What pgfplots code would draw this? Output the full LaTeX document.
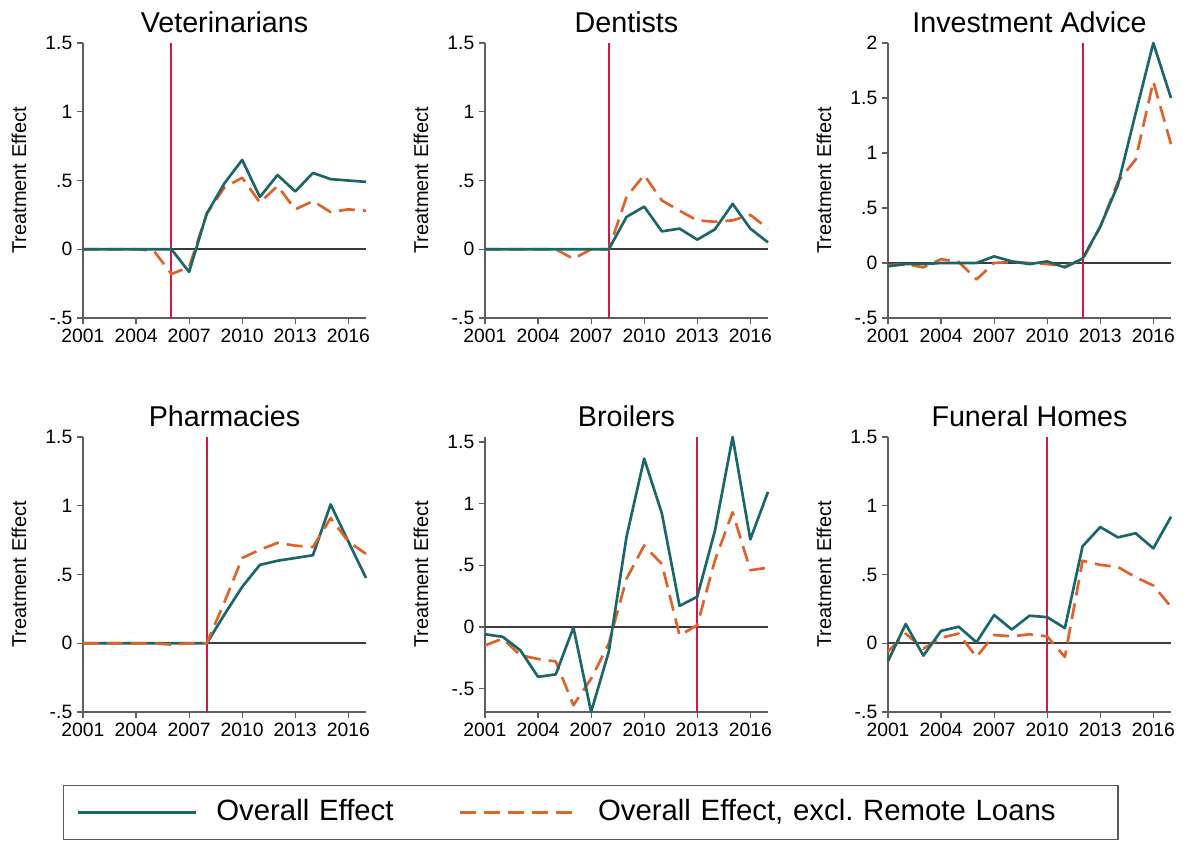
\documentclass[border=0pt]{standalone}
\usepackage{fontspec}
\setmainfont{Liberation Sans}
\usepackage{pgfplots}
\pgfplotsset{compat=1.18}
\definecolor{tealc}{RGB}{26,102,104}
\definecolor{orangec}{RGB}{221,99,42}
\definecolor{redc}{RGB}{210,25,70}
\definecolor{axisgray}{RGB}{95,95,95}
\definecolor{zerogray}{RGB}{60,60,60}
\definecolor{legendgray}{RGB}{90,90,90}
\pgfplotsset{
  panel/.style={
    scale only axis, width=212.25pt, height=206.25pt,
    xmin=2001, xmax=2017, enlargelimits=false, clip=false,
    axis x line*=bottom, axis y line*=left,
    axis line style={-, draw=axisgray, line width=0.9pt},
    tick align=outside, major tick length=4.5pt,
    tick style={draw=axisgray, line width=0.9pt},
    xtick={2001,2004,2007,2010,2013,2016},
    xticklabels={2001,2004,2007,2010,2013,2016},
    ticklabel style={font=\fontsize{14.5}{15}\selectfont},
    every axis title/.style={at={(0.5,1)}, anchor=base, yshift=7.5pt, font=\fontsize{21.5}{22}\selectfont},
    every axis y label/.style={at={(axis description cs:-0.226,0.5)}, rotate=90, anchor=center, font=\fontsize{15}{16}\selectfont},
    ylabel={Treatment Effect},
  },
  std y/.style={ymin=-0.5, ymax=1.5, ytick={-0.5,0,0.5,1,1.5}, yticklabels={-.5,0,.5,1,1.5}},
  teal line/.style={tealc, line width=2pt, line join=round},
  orange line/.style={orangec, line width=2pt, dash pattern=on 12pt off 6pt, line join=round},
  red line/.style={draw=redc, line width=1.5pt, forget plot},
  zero line/.style={draw=zerogray, line width=1.4pt, forget plot},
}
\begin{document}
\begin{tikzpicture}
\path[use as bounding box] (0,0) rectangle (887.25pt,630pt);

% Veterinarians
\begin{axis}[panel, std y, at={(62.25pt,391.5pt)}, anchor=south west, title={Veterinarians}]
\addplot[zero line] coordinates {(2001,0) (2017,0)};
\addplot[red line] coordinates {(2006,-0.5) (2006,1.5)};
\addplot[orange line] coordinates {(2001,0) (2002,0) (2003,0) (2004,0) (2005,-0.01) (2006,-0.18) (2007,-0.13) (2008,0.26) (2009,0.45) (2010,0.52) (2011,0.34) (2012,0.46) (2013,0.29) (2014,0.35) (2015,0.27) (2016,0.29) (2017,0.28)};
\addplot[teal line] coordinates {(2001,0) (2002,0) (2003,0) (2004,0) (2005,0) (2006,0) (2007,-0.165) (2008,0.26) (2009,0.48) (2010,0.65) (2011,0.38) (2012,0.54) (2013,0.42) (2014,0.555) (2015,0.51) (2016,0.50) (2017,0.49)};
\end{axis}

% Dentists
\begin{axis}[panel, std y, at={(363.75pt,391.5pt)}, anchor=south west, title={Dentists}]
\addplot[zero line] coordinates {(2001,0) (2017,0)};
\addplot[red line] coordinates {(2008,-0.5) (2008,1.5)};
\addplot[orange line] coordinates {(2001,0) (2002,0) (2003,0) (2004,0) (2005,0) (2006,-0.07) (2007,0) (2008,0) (2009,0.38) (2010,0.54) (2011,0.355) (2012,0.28) (2013,0.21) (2014,0.20) (2015,0.21) (2016,0.25) (2017,0.15)};
\addplot[teal line] coordinates {(2001,0) (2002,0) (2003,0) (2004,0) (2005,0) (2006,0) (2007,0) (2008,0) (2009,0.235) (2010,0.31) (2011,0.13) (2012,0.15) (2013,0.07) (2014,0.145) (2015,0.33) (2016,0.15) (2017,0.05)};
\end{axis}

% Investment Advice
\begin{axis}[panel, at={(666pt,391.5pt)}, anchor=south west, title={Investment Advice},
  ymin=-0.5, ymax=2, ytick={-0.5,0,0.5,1,1.5,2}, yticklabels={-.5,0,.5,1,1.5,2}]
\addplot[zero line] coordinates {(2001,0) (2017,0)};
\addplot[red line] coordinates {(2012,-0.5) (2012,2)};
\addplot[orange line] coordinates {(2001,-0.02) (2002,-0.01) (2003,-0.04) (2004,0.035) (2005,0.01) (2006,-0.15) (2007,0) (2008,0.01) (2009,0) (2010,-0.01) (2011,-0.03) (2012,0.03) (2013,0.33) (2014,0.74) (2015,0.94) (2016,1.65) (2017,1.08)};
\addplot[teal line] coordinates {(2001,-0.03) (2002,-0.01) (2003,-0.01) (2004,0) (2005,0) (2006,0) (2007,0.06) (2008,0.015) (2009,-0.01) (2010,0.015) (2011,-0.04) (2012,0.04) (2013,0.33) (2014,0.71) (2015,1.36) (2016,2.0) (2017,1.5)};
\end{axis}

% Pharmacies (holds the legend)
\begin{axis}[panel, std y, at={(62.25pt,96pt)}, anchor=south west, title={Pharmacies},
  legend columns=2,
  legend image code/.code={\draw[#1] (0pt,0pt) -- (88.5pt,0pt);},
  legend style={at={(axis description cs:-0.0707,-0.26545)}, anchor=north west,
    draw=legendgray, line width=1.1pt, inner xsep=9.75pt, inner ysep=10pt,
    font=\fontsize{22}{24}\selectfont,
    nodes={inner sep=0pt, text height=16pt, text depth=4.5pt},
    /tikz/every odd column/.append style={column sep=14.25pt},
    /tikz/every even column/.append style={column sep=0pt}}]
\addplot[zero line] coordinates {(2001,0) (2017,0)};
\addplot[red line] coordinates {(2008,-0.5) (2008,1.5)};
\addplot[teal line] coordinates {(2001,0) (2002,0) (2003,0) (2004,0) (2005,0) (2006,0) (2007,0) (2008,0) (2009,0.21) (2010,0.41) (2011,0.57) (2012,0.60) (2013,0.62) (2014,0.64) (2015,1.01) (2016,0.74) (2017,0.475)};
\addlegendentry[text width=181.5pt]{Overall Effect}
\addplot[orange line] coordinates {(2001,0) (2002,0) (2003,0) (2004,0) (2005,0) (2006,-0.01) (2007,0) (2008,0) (2009,0.30) (2010,0.62) (2011,0.68) (2012,0.73) (2013,0.71) (2014,0.70) (2015,0.91) (2016,0.74) (2017,0.65)};
\addlegendentry[text width=380.25pt]{Overall Effect, excl.\ Remote Loans}
\end{axis}

% Broilers
\begin{axis}[panel, at={(363.75pt,96pt)}, anchor=south west, title={Broilers},
  ymin=-0.69, ymax=1.54, ytick={-0.5,0,0.5,1,1.5}, yticklabels={-.5,0,.5,1,1.5}]
\addplot[zero line] coordinates {(2001,0) (2017,0)};
\addplot[red line] coordinates {(2013,-0.69) (2013,1.54)};
\addplot[orange line] coordinates {(2001,-0.15) (2002,-0.095) (2003,-0.23) (2004,-0.26) (2005,-0.28) (2006,-0.635) (2007,-0.42) (2008,-0.135) (2009,0.39) (2010,0.66) (2011,0.51) (2012,-0.07) (2013,0.015) (2014,0.54) (2015,0.93) (2016,0.46) (2017,0.48)};
\addplot[teal line] coordinates {(2001,-0.06) (2002,-0.08) (2003,-0.19) (2004,-0.405) (2005,-0.385) (2006,-0.005) (2007,-0.69) (2008,-0.2) (2009,0.73) (2010,1.365) (2011,0.92) (2012,0.17) (2013,0.245) (2014,0.78) (2015,1.54) (2016,0.71) (2017,1.095)};
\end{axis}

% Funeral Homes
\begin{axis}[panel, std y, at={(666pt,96pt)}, anchor=south west, title={Funeral Homes}]
\addplot[zero line] coordinates {(2001,0) (2017,0)};
\addplot[red line] coordinates {(2010,-0.5) (2010,1.5)};
\addplot[orange line] coordinates {(2001,-0.06) (2002,0.07) (2003,-0.04) (2004,0.04) (2005,0.07) (2006,-0.10) (2007,0.06) (2008,0.05) (2009,0.065) (2010,0.05) (2011,-0.10) (2012,0.60) (2013,0.57) (2014,0.555) (2015,0.48) (2016,0.42) (2017,0.265)};
\addplot[teal line] coordinates {(2001,-0.13) (2002,0.14) (2003,-0.09) (2004,0.09) (2005,0.12) (2006,0.007) (2007,0.205) (2008,0.10) (2009,0.20) (2010,0.19) (2011,0.11) (2012,0.705) (2013,0.845) (2014,0.77) (2015,0.80) (2016,0.69) (2017,0.92)};
\end{axis}
\end{tikzpicture}
\end{document}
